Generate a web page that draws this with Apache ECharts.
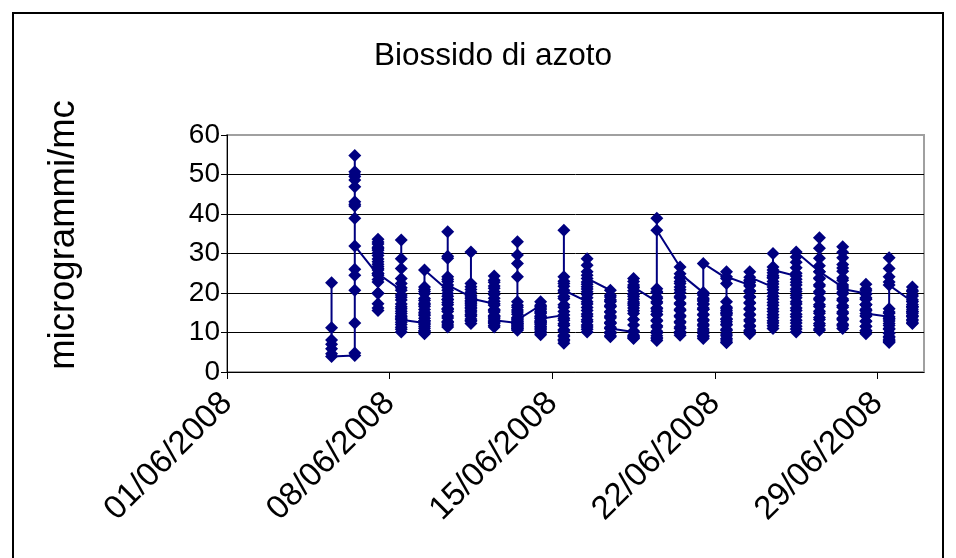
<!DOCTYPE html>
<html>
<head>
<meta charset="utf-8">
<script src="https://cdn.jsdelivr.net/npm/echarts@6/dist/echarts.min.js"></script>
<style>
html,body{margin:0;padding:0;background:#fff;}
#chart{width:956px;height:558px;}
</style>
</head>
<body>
<div id="chart"></div>
<script>
// Day of month (June 2008) for each group of hourly readings
const dayNumbers = [5,6,7,8,9,10,11,12,13,14,15,16,17,18,19,20,21,22,23,24,25,26,27,28,29,30];
// Hourly NO2 values (microgrammi/mc), one array per day
const hourlyValues = [
  [22.6, 11.2, 8.1, 7.0, 5.9, 4.6, 3.9],
  [4.2, 4.8, 12.4, 20.7, 24.5, 26.0, 38.9, 42.0, 43.1, 46.9, 48.6, 50.0, 50.7, 54.8, 49.5, 42.5, 31.9],
  [24.5, 22.8, 20.0, 17.3, 15.6, 16.2, 19.9, 23.4, 26.2, 27.9, 29.5, 30.8, 31.6, 32.4, 33.6, 32.9, 31.2, 30.1, 28.6, 27.3, 26.7, 25.8, 24.9, 25.0],
  [20.7, 18.9, 16.5, 14.2, 12.6, 11.3, 10.1, 10.8, 12.0, 13.9, 15.4, 17.2, 19.5, 22.4, 23.7, 26.2, 28.7, 33.4, 21.3, 18.2, 16.0, 14.8, 13.2, 13.5],
  [12.4, 11.6, 10.5, 9.7, 10.2, 11.1, 12.9, 14.3, 15.8, 17.4, 18.6, 19.8, 21.5, 20.4, 18.1, 16.6, 15.1, 13.6, 12.1, 13.0, 14.7, 17.0, 20.9, 25.8],
  [20.7, 18.4, 16.1, 14.2, 12.8, 11.9, 11.4, 12.5, 13.7, 15.3, 17.0, 19.2, 21.4, 23.5, 24.1, 29.3, 35.5, 28.8, 22.9, 19.9, 17.6, 15.8, 18.3, 22.0],
  [19.0, 17.2, 15.5, 14.1, 13.0, 12.3, 12.9, 14.6, 16.3, 18.1, 20.2, 22.4, 30.4, 21.6, 20.9, 19.4, 17.8, 16.0, 14.4, 13.4, 15.2, 16.8, 17.5, 18.6],
  [17.3, 15.6, 14.0, 12.7, 11.8, 11.4, 12.3, 13.9, 15.8, 17.9, 19.6, 21.2, 22.7, 24.3, 23.2, 21.8, 20.3, 18.7, 16.9, 15.2, 14.3, 13.1, 12.6, 13.5],
  [12.4, 11.5, 10.9, 10.6, 11.2, 12.3, 13.8, 15.2, 16.4, 17.8, 24.1, 27.5, 29.6, 33.0, 16.9, 15.7, 14.6, 13.5, 12.9, 11.8, 11.0, 12.1, 13.2, 12.7],
  [16.9, 17.8, 16.2, 15.1, 14.0, 12.8, 11.6, 10.7, 9.9, 9.4, 10.3, 11.4, 12.5, 13.7, 14.8, 15.9, 16.6, 15.4, 14.2, 13.0, 12.0, 11.1, 12.4, 13.5],
  [14.4, 13.1, 11.8, 10.4, 9.3, 8.2, 7.3, 7.9, 9.0, 10.7, 12.2, 13.6, 15.3, 17.0, 18.6, 20.2, 21.7, 23.0, 24.1, 35.9, 22.4, 19.1, 16.4, 20.7],
  [17.8, 16.3, 14.7, 13.2, 11.9, 10.8, 10.1, 11.4, 12.7, 14.1, 15.6, 17.2, 18.8, 20.3, 21.6, 22.8, 25.4, 27.0, 28.7, 24.5, 22.2, 19.6, 21.0, 23.7],
  [20.7, 19.4, 18.0, 16.6, 15.3, 13.9, 12.6, 11.3, 10.1, 9.2, 8.9, 9.8, 11.0, 12.3, 13.7, 15.1, 16.5, 17.8, 19.0, 18.3, 16.9, 14.2, 12.4, 11.0],
  [10.1, 9.3, 8.7, 8.5, 9.0, 10.4, 11.9, 13.3, 14.8, 16.2, 17.7, 19.1, 20.6, 22.0, 23.7, 22.9, 21.3, 19.8, 18.4, 16.9, 15.5, 17.3, 19.6, 21.5],
  [17.8, 16.2, 14.6, 13.1, 11.7, 10.3, 9.2, 8.4, 8.0, 8.7, 9.9, 11.4, 12.9, 14.5, 16.0, 17.5, 19.0, 20.1, 21.1, 18.6, 15.4, 20.4, 38.9, 35.9],
  [26.6, 24.0, 22.4, 20.8, 19.2, 17.5, 15.9, 14.3, 12.8, 11.4, 10.2, 9.3, 9.8, 11.0, 12.5, 14.0, 15.6, 17.2, 18.8, 20.1, 21.5, 22.9, 23.8, 24.9],
  [20.1, 18.7, 17.3, 15.9, 14.6, 13.3, 12.1, 10.9, 9.8, 8.9, 8.5, 9.2, 10.4, 11.7, 13.0, 14.4, 15.8, 17.1, 18.3, 19.5, 19.9, 18.0, 16.2, 27.5],
  [23.7, 22.4, 17.8, 16.4, 15.0, 13.5, 12.1, 10.8, 9.6, 8.5, 7.6, 7.4, 8.1, 9.2, 10.5, 11.9, 13.3, 14.8, 16.0, 14.4, 12.7, 15.5, 25.4, 24.1],
  [22.0, 20.6, 19.1, 17.6, 16.1, 14.6, 13.2, 11.8, 10.6, 9.7, 10.3, 11.5, 12.9, 14.4, 15.9, 17.4, 18.9, 20.4, 21.8, 23.1, 25.4, 22.7, 23.3, 24.0],
  [21.5, 20.0, 18.4, 16.9, 15.3, 13.8, 12.4, 11.0, 11.7, 13.0, 14.5, 16.0, 17.6, 19.2, 20.8, 22.3, 23.8, 25.1, 26.6, 30.0, 24.4, 22.9, 24.0, 25.8],
  [24.3, 22.7, 21.0, 19.4, 17.8, 16.2, 14.6, 13.1, 11.6, 10.1, 10.9, 12.4, 14.0, 15.6, 17.2, 18.8, 20.4, 22.0, 23.5, 25.0, 26.4, 27.8, 29.1, 30.4],
  [25.4, 23.8, 22.1, 20.4, 18.7, 17.0, 15.4, 13.8, 12.3, 10.9, 10.6, 11.8, 13.3, 14.9, 16.6, 18.3, 20.0, 21.8, 23.6, 26.9, 28.8, 31.3, 34.0, 25.4],
  [21.5, 19.8, 18.1, 16.4, 14.8, 13.2, 11.7, 11.0, 12.1, 13.6, 15.2, 16.8, 18.5, 20.2, 22.0, 23.8, 25.5, 27.2, 28.9, 30.3, 31.7, 26.3, 23.2, 21.0],
  [19.9, 18.5, 17.0, 15.6, 14.2, 12.9, 11.6, 10.5, 9.7, 10.4, 11.5, 12.8, 14.2, 15.6, 17.0, 18.4, 19.7, 21.0, 22.2, 20.6, 18.8, 17.1, 15.9, 14.8],
  [14.0, 12.9, 11.8, 10.8, 9.9, 9.0, 8.3, 7.8, 7.5, 7.9, 8.8, 9.8, 11.0, 12.3, 13.6, 14.9, 16.0, 15.2, 13.4, 22.8, 26.2, 28.9, 24.1, 22.0],
  [17.8, 16.6, 15.4, 14.3, 13.3, 12.5, 12.3, 13.0, 14.1, 15.3, 16.6, 17.9, 19.2, 20.4, 21.5, 20.7, 19.5, 18.3, 17.1, 15.9, 14.8, 14.0, 15.2, 16.4]
];
// Tick labels every 7 days, starting at 01/06/2008
const tickLabels = ['01/06/2008', '08/06/2008', '15/06/2008', '22/06/2008', '29/06/2008'];
const chartTitle = 'Biossido di azoto';
const yAxisTitle = 'microgrammi/mc';

// Each day's readings sit in the middle of that day's slot (days counted from 01/06)
const seriesData = [];
dayNumbers.forEach((d, i) => {
  hourlyValues[i].forEach(v => seriesData.push([d - 0.5, v]));
});

const FONT = '"Liberation Sans", Arial, sans-serif';
const chart = echarts.init(document.getElementById('chart'), null, {renderer: 'canvas'});
chart.setOption({
  backgroundColor: '#ffffff',
  animation: false,
  title: {
    text: chartTitle,
    left: 369, top: 35,
    textStyle: {fontFamily: FONT, fontSize: 31.5, fontWeight: 'normal', color: '#000'}
  },
  grid: {
    left: 227, top: 135, right: 32, bottom: 186,
    show: true, borderColor: '#a0a0a0', borderWidth: 2, backgroundColor: 'transparent'
  },
  xAxis: {
    type: 'value', min: 0, max: 30, interval: 7,
    axisLine: {show: true, onZero: false, lineStyle: {color: '#000', width: 1}},
    axisTick: {show: true, length: 7, lineStyle: {color: '#000'}},
    axisLabel: {
      rotate: 45, margin: 26, color: '#000', fontFamily: FONT, fontSize: 33,
      showMaxLabel: false,
      formatter: v => (v % 7 === 0 ? (tickLabels[v / 7] || '') : '')
    },
    splitLine: {show: false}
  },
  yAxis: {
    type: 'value', min: 0, max: 60, interval: 10,
    axisLine: {show: true, lineStyle: {color: '#000', width: 1}},
    axisTick: {show: true, length: 6, lineStyle: {color: '#000'}},
    axisLabel: {margin: 7, color: '#000', fontFamily: FONT, fontSize: 28},
    splitLine: {show: true, showMaxLine: false, lineStyle: {color: '#000', width: 1}}
  },
  series: [{
    type: 'line',
    data: seriesData,
    symbol: 'diamond',
    symbolSize: [13, 13],
    showAllSymbol: true,
    lineStyle: {color: '#000080', width: 2},
    itemStyle: {color: '#000080', borderWidth: 0},
    z: 3
  }],
  graphic: [
    {
      type: 'rect', silent: true, z: 10,
      shape: {x: 13, y: 13, width: 930, height: 600},
      style: {fill: 'none', stroke: '#000', lineWidth: 2}
    },
    {
      type: 'text', silent: true,
      x: 64, y: 235, rotation: Math.PI / 2,
      style: {text: yAxisTitle, fontFamily: FONT, fontSize: 36.5, fill: '#000', align: 'center', verticalAlign: 'middle'}
    }
  ]
});
</script>
</body>
</html>
